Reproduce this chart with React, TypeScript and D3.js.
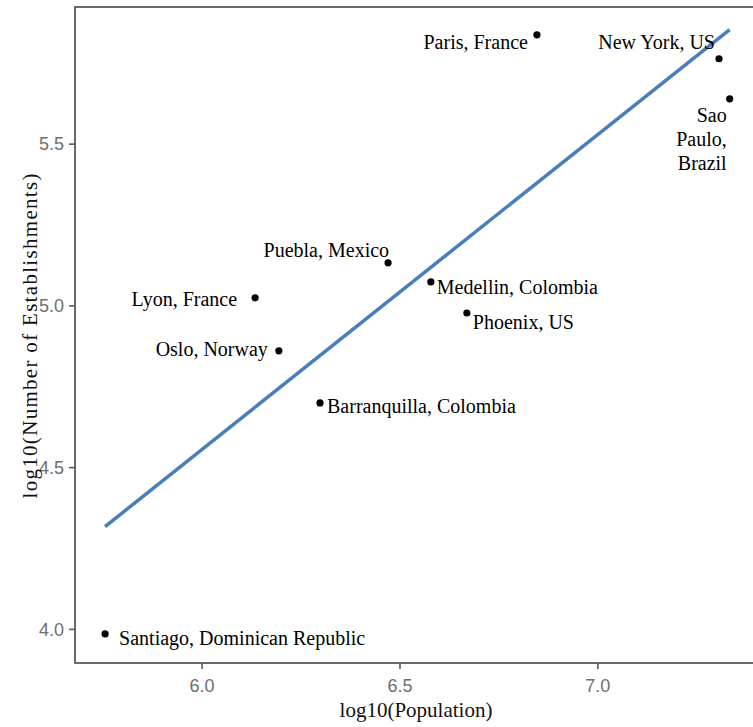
import React from "react";
import * as d3 from "d3";

// city data (log10 values)
const cities = [
  "Santiago, Dominican Republic",
  "Lyon, France",
  "Oslo, Norway",
  "Puebla, Mexico",
  "Barranquilla, Colombia",
  "Medellin, Colombia",
  "Phoenix, US",
  "Paris, France",
  "New York, US",
  "Sao Paulo, Brazil",
];
const logPopulation = [5.755, 6.134, 6.194, 6.47, 6.298, 6.578, 6.669, 6.846, 7.306, 7.333];
const logEstablishments = [3.986, 5.025, 4.861, 5.133, 4.7, 5.074, 4.978, 5.838, 5.764, 5.64];

// label placement (repel-style offsets from each point)
const labelLines = [
  ["Santiago, Dominican Republic"],
  ["Lyon, France"],
  ["Oslo, Norway"],
  ["Puebla, Mexico"],
  ["Barranquilla, Colombia"],
  ["Medellin, Colombia"],
  ["Phoenix, US"],
  ["Paris, France"],
  ["New York, US"],
  ["Sao", "Paulo,", "Brazil"],
];
const labelAnchor = ["start", "end", "end", "end", "start", "start", "start", "end", "end", "end"];
const labelDx = [14, -18, -11, 1, 7, 6, 6, -9, -4, -3];
const labelDy = [11, 8, 5, -6, 10, 12, 16, 14, -10, 23];

const xTicks = [6.0, 6.5, 7.0];
const yTicks = [4.0, 4.5, 5.0, 5.5];

const W = 753;
const H = 727;
const panel = { left: 75, right: 757, top: 7, bottom: 663 };

export default function App() {
  const x = d3.scaleLinear().domain([5.679, 7.402]).range([panel.left, panel.right]);
  const y = d3.scaleLinear().domain([3.896, 5.924]).range([panel.bottom, panel.top]);

  // least squares fit
  const mx = d3.mean(logPopulation) as number;
  const my = d3.mean(logEstablishments) as number;
  let sxy = 0;
  let sxx = 0;
  logPopulation.forEach((v, i) => {
    sxy += (v - mx) * (logEstablishments[i] - my);
    sxx += (v - mx) * (v - mx);
  });
  const slope = sxy / sxx;
  const icpt = my - slope * mx;
  const [x0, x1] = d3.extent(logPopulation) as [number, number];
  const fit: [number, number][] = [
    [x0, icpt + slope * x0],
    [x1, icpt + slope * x1],
  ];
  const line = d3
    .line<[number, number]>()
    .x((d) => x(d[0]))
    .y((d) => y(d[1]));

  const serif = "'Liberation Serif', 'Times New Roman', serif";
  const tickFont = "'Liberation Sans Narrow', 'Liberation Sans', Arial, sans-serif";
  const tickColor = "#6e6e6e";

  return (
    <svg width={W} height={H} style={{ position: "absolute", left: 0, top: 0, background: "#fff" }}>
      {/* panel border */}
      <rect
        x={panel.left}
        y={panel.top}
        width={panel.right - panel.left}
        height={panel.bottom - panel.top}
        fill="white"
        stroke="#5a5a5a"
        strokeWidth={1.8}
      />

      {/* x axis ticks */}
      {xTicks.map((t) => (
        <g key={"x" + t}>
          <line x1={x(t)} x2={x(t)} y1={panel.bottom} y2={panel.bottom + 6} stroke="#5a5a5a" strokeWidth={1.6} />
          <text x={x(t)} y={panel.bottom + 29} textAnchor="middle" fontFamily={tickFont} fontSize={18} fill={tickColor}>
            {t.toFixed(1)}
          </text>
        </g>
      ))}

      {/* y axis ticks */}
      {yTicks.map((t) => (
        <g key={"y" + t}>
          <line x1={panel.left - 6} x2={panel.left} y1={y(t)} y2={y(t)} stroke="#5a5a5a" strokeWidth={1.6} />
          <text
            x={panel.left - 11}
            y={y(t)}
            dy="0.35em"
            textAnchor="end"
            fontFamily={tickFont}
            fontSize={18}
            fill={tickColor}
          >
            {t.toFixed(1)}
          </text>
        </g>
      ))}

      {/* axis titles */}
      <text x={(panel.left + panel.right) / 2} y={717} textAnchor="middle" fontFamily={serif} fontSize={21} fill="#111">
        log10(Population)
      </text>
      <text
        transform={`translate(37, 336) rotate(-90)`}
        textAnchor="middle"
        fontFamily={serif}
        fontSize={21}
        fill="#111"
        textLength={325}
        lengthAdjust="spacing"
      >
        log10(Number of Establishments)
      </text>

      {/* regression line */}
      <path d={line(fit) as string} fill="none" stroke="#4a7ebb" strokeWidth={3.5} />

      {/* points */}
      {cities.map((c, i) => (
        <circle key={c} cx={x(logPopulation[i])} cy={y(logEstablishments[i])} r={3.6} fill="#000" />
      ))}

      {/* labels */}
      {cities.map((c, i) => (
        <text
          key={"l" + c}
          x={x(logPopulation[i]) + labelDx[i]}
          y={y(logEstablishments[i]) + labelDy[i]}
          textAnchor={labelAnchor[i] as any}
          fontFamily={serif}
          fontSize={20}
          fill="#000"
        >
          {labelLines[i].map((ln, j) => (
            <tspan key={j} x={x(logPopulation[i]) + labelDx[i]} dy={j === 0 ? 0 : 24}>
              {ln}
            </tspan>
          ))}
        </text>
      ))}
    </svg>
  );
}
